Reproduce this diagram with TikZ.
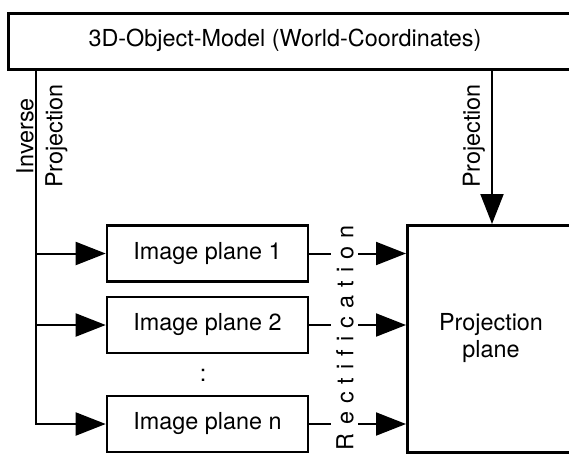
\documentclass[tikz,border=0pt]{standalone}
\usepackage{fontspec}
\setmainfont{TeX Gyre Heros}
\usetikzlibrary{arrows.meta}
\begin{document}
\begin{tikzpicture}[x=1pt,y=-1pt,
   every node/.style={font=\fontsize{23.4}{27}\selectfont},
   framebox/.style={draw,line width=2.6pt,inner sep=0pt},
   planebox/.style={framebox,minimum width=201pt,minimum height=56pt},
   conn/.style={line width=2pt},
   arr/.style={conn,-{Triangle[length=30pt,width=23pt]}}]
   \useasboundingbox (0,0) rectangle (569,453);
   \clip (0,0) rectangle (569,453);
   % boxes (open towards the right edge)
   \node [framebox,anchor=north west,minimum width=620pt,minimum height=56pt] (model) at (7,12) {};
   \node (modeltext) at (285,40) {3D-Object-Model (World-Coordinates)};
   \node [framebox,anchor=north west,minimum width=200pt,minimum height=227pt] (pplane) at (406,224) {};
   \node [align=center] (pplanetext) at (491,338) {Projection\\plane};
   \node [planebox] (img1) at (207.5,253.5) {Image plane 1};
   \node [planebox] (img2) at (207.5,325) {Image plane 2};
   \node [planebox] (imgn) at (207.5,424) {Image plane n};
   \node (dots) at (203,375) {:};
   % connectors
   \coordinate (invtop) at ([xshift=29pt]model.south west);
   \coordinate (projtop) at ([xshift=485pt]model.south west);
   \draw [arr] (invtop) |- (imgn.west);
   \foreach \k in {1,2}
      \draw [arr] (invtop |- img\k.west) -- (img\k.west);
   \draw [arr] (projtop) -- (projtop |- pplane.north);
   \foreach \k in {1,2,n} {
      \draw [conn] (img\k.east) -- ++(22,0);
      \draw [arr] ([xshift=49pt]img\k.east) -- (img\k.east -| pplane.west);
   }
   % labels
   \node [rotate=90,align=center,font=\fontsize{23.4}{29}\selectfont] (invlabel) at (42,136) {Inverse\\Projection};
   \node [rotate=90] (projlabel) at (474,136) {Projection};
   \node [rotate=90] (rectlabel) at (345,337.5) {\makebox[225pt][s]{R\hfil e\hfil c\hfil t\hfil i\hfil f\hfil i\hfil c\hfil a\hfil t\hfil i\hfil o\hfil n}};
\end{tikzpicture}
\end{document}
